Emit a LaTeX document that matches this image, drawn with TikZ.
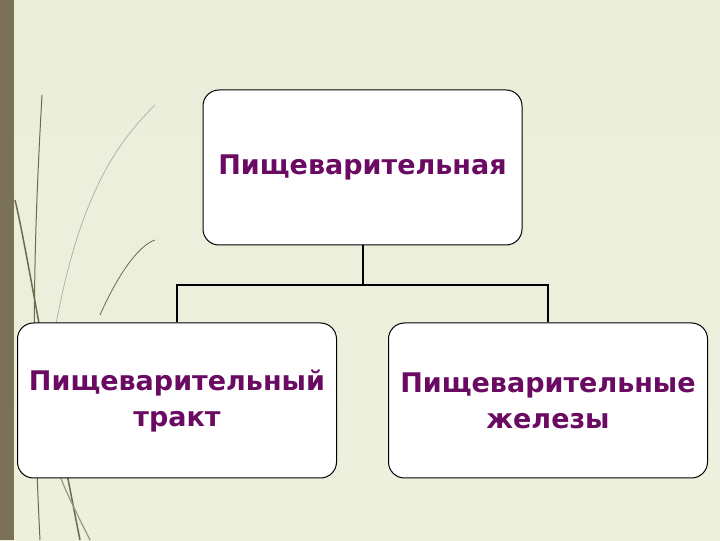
\documentclass[tikz,border=0pt]{standalone}
\usepackage{fontspec}
\setmainfont{DejaVu Sans}
\definecolor{txt}{HTML}{6A0A62}
\definecolor{bar}{HTML}{7A7158}
\definecolor{grass}{HTML}{6E6A50}
\begin{document}
\begin{tikzpicture}[x=1pt,y=1pt,
  box/.style={draw=black,line width=1pt,fill=white,rounded corners=16pt,minimum width=319pt,minimum height=155pt,inner sep=0pt},
  lbl/.style={text=txt,font=\fontsize{27}{36}\selectfont\bfseries,align=center},
  conn/.style={line width=2pt}]
\shade[top color={rgb,255:red,234;green,238;blue,218},bottom color={rgb,255:red,236;green,240;blue,220}] (0,0) rectangle (720,540);
\fill[bar] (0,0) rectangle (14,540);
% grass
\draw[grass,line width=1pt] (40,0) .. controls (30,200) and (35,320) .. (42,445);
\draw[grass,line width=1.5pt] (80,0) .. controls (50,150) and (25,300) .. (15,340);
\draw[grass!60,line width=0.6pt] (55,210) .. controls (80,350) and (120,400) .. (155,435);
\draw[grass,line width=0.8pt] (100,225) .. controls (120,270) and (140,295) .. (155,300);
\draw[grass!70,line width=1.2pt] (90,0) .. controls (70,40) and (60,60) .. (55,80);
\node[box] (top) at (362.5,372.5) {};
\node[box] (left) at (177,139.5) {};
\node[box] (right) at (548,139.5) {};
\coordinate (j) at (362.5,255);
\draw[conn] (top.south) -- (j);
\draw[conn] (j) -| (left.north);
\draw[conn] (j) -| (right.north);
\node[lbl] at (top.center) {Пищеварительная};
\node[lbl] at (left.center) {Пищеварительный\\тракт};
\node[lbl] at (right.center) {Пищеварительные\\железы};
\end{tikzpicture}
\end{document}
